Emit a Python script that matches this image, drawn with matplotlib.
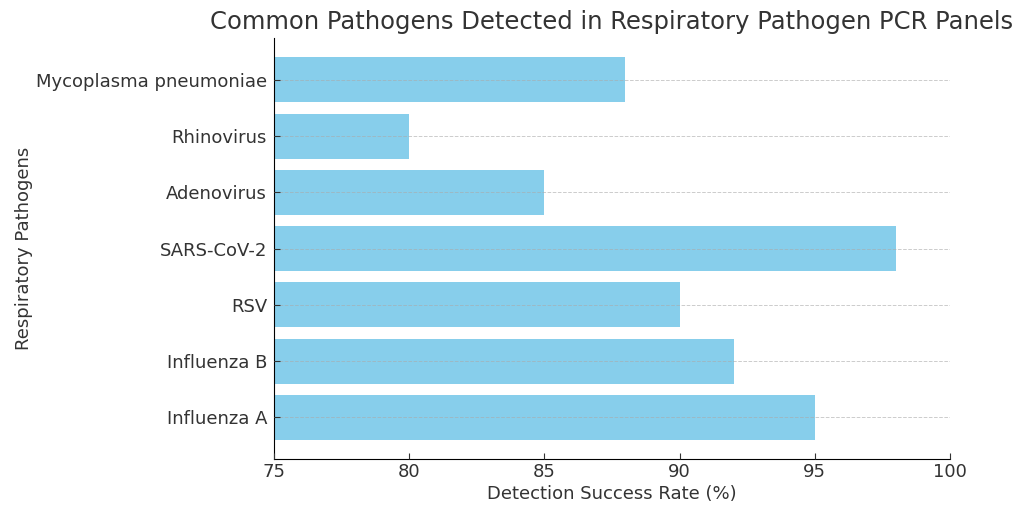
import matplotlib
matplotlib.use("Agg")
import matplotlib.pyplot as plt

pathogens = ["Influenza A", "Influenza B", "RSV", "SARS-CoV-2", "Adenovirus", "Rhinovirus", "Mycoplasma pneumoniae"]
rates = [95, 92, 90, 98, 85, 80, 88]

fig = plt.figure(figsize=(10.24, 5.17), dpi=100)
ax = fig.add_axes([0.2676, 0.112, 0.66, 0.814])
ax.barh(pathogens, rates, color="skyblue", height=0.8)
ax.set_xlim(75, 100)
ax.set_xlabel("Detection Success Rate (%)", fontsize=13, color="#333333", labelpad=3)
ax.set_ylabel("Respiratory Pathogens", fontsize=13, color="#333333", labelpad=2)
fig.text(0.5977, 0.957, "Common Pathogens Detected in Respiratory Pathogen PCR Panels",
         ha="center", va="center", fontsize=17.5, color="#333333")
ax.tick_params(labelsize=13, colors="#333333", direction="in", length=4, pad=5)
ax.tick_params(axis="x", pad=3)
ax.grid(axis="y", linestyle="--", color="#aaaaaa", linewidth=0.7, alpha=0.6)
ax.set_axisbelow(False)
for s in ["top", "right"]:
    ax.spines[s].set_visible(False)
fig.savefig("out.png", dpi=100)
